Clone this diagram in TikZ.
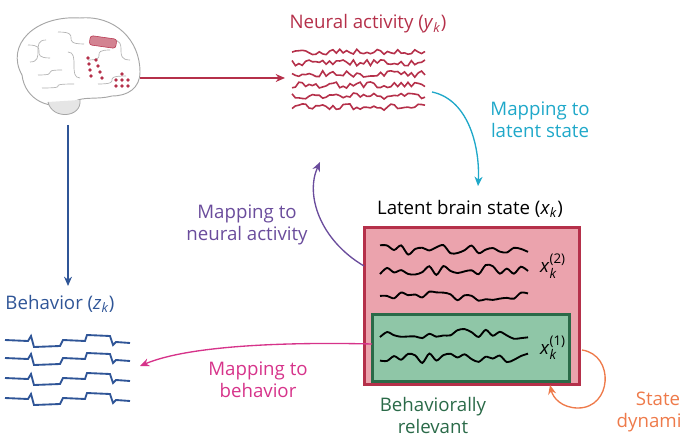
\documentclass[tikz,border=0pt]{standalone}
\usepackage{fontspec}
\setmainfont{Open Sans}
\usetikzlibrary{arrows.meta}
\definecolor{nred}{HTML}{B5304A}
\definecolor{ncyan}{HTML}{1FA8C9}
\definecolor{npurp}{HTML}{6A4C9C}
\definecolor{nblue}{HTML}{2F5597}
\definecolor{nmag}{HTML}{D6338A}
\definecolor{ngreen}{HTML}{2A6A48}
\definecolor{norange}{HTML}{EE7A4A}
\definecolor{pinkf}{HTML}{EBA3AD}
\definecolor{greenf}{HTML}{8FC6A7}
\newcommand{\vk}[1]{\textit{#1}\textsubscript{\textit{k}}}
\newcommand{\vks}[2]{\textit{#1}$_{\mbox{\fontsize{10}{10}\selectfont\itshape k}}^{\mbox{\fontsize{10}{10}\selectfont(#2)}}$}
\begin{document}
\begin{tikzpicture}[x=0.75pt,y=-0.75pt,
  lab/.style={font=\fontsize{14}{16.5}\selectfont,align=center},
  arr/.style={-{Stealth[length=7pt,width=6pt]},line width=1pt}]
\useasboundingbox (0,0) rectangle (680,448);
\pgfmathsetseed{11}
% brain
\draw[gray!70,line width=0.7pt,fill=white] (22,75) .. controls (5,45) and (35,15) .. (80,18) .. controls (115,15) and (140,40) .. (140,72) .. controls (140,88) and (128,96) .. (112,96) .. controls (98,100) and (82,96) .. (74,102) .. controls (50,112) and (25,100) .. (22,75) -- cycle;
\draw[gray!70,line width=0.6pt,fill=gray!20] (48,102) .. controls (52,120) and (82,118) .. (80,100);
\foreach \a/\b/\c/\d in {28/45/50/58, 38/75/62/70, 58/32/84/44, 88/60/110/50, 42/88/74/84, 98/84/126/76, 68/52/80/78, 30/62/46/40, 112/40/130/60}
  \draw[gray!60,line width=0.5pt] (\a,\b) .. controls (\c,\b) and (\a,\d) .. (\c,\d);
\node[draw=nred,fill=nred!60,rounded corners=2pt,minimum width=20pt,minimum height=7pt,inner sep=0pt,rotate=-8] (arrayR) at (103,42) {};
\foreach \p in {(88,58),(89,64),(90,70),(91,76),(96,60),(98,66),(100,72),(102,78),(116,80),(122,80),(128,80),(116,86),(122,86),(128,86),(122,74)}
  \fill[nred] \p circle (1.8);
\coordinate (brainR) at (140,78);
\coordinate (brainB) at (68,125);
% neural activity
\node[lab,text=nred] (nlab) at (368,24) {Neural activity (\vk{y})};
\foreach \y in {52,63,74,85,96,107}
  \draw[nred,line width=1.2pt] plot[domain=292:425,samples=40] (\x,{\y+3.2*rand});
\coordinate (nin) at (285,78);
\draw[arr,nred] (brainR) -- (nin);
% latent
\node[lab,text=ncyan] (clab) at (540,120) {Mapping to\\latent state};
\coordinate (nout) at (432,92);
\coordinate (lin) at (478,186);
\draw[arr,ncyan] (nout) .. controls (470,100) and (480,150) .. (lin);
\node[lab] (llab) at (470,209) {Latent brain state (\vk{x})};
\node[draw=nred,line width=2.2pt,fill=pinkf,minimum width=161pt,minimum height=118pt,inner sep=0pt] (rbox) at (472,306) {};
\node[draw=ngreen,line width=2.2pt,fill=greenf,minimum width=148pt,minimum height=50pt,inner sep=0pt] (gbox) at (471,348) {};
\foreach \y in {250,270,296,334,358}
  \draw[line width=1.4pt] plot[smooth,domain=380:528,samples=22] (\x,{\y+5*rand});
\node[lab] (x2) at (553,266) {\vks{x}{2}};
\node[lab] (x1) at (553,348) {\vks{x}{1}};
% purple
\node[lab,text=npurp] (plab) at (247,225) {Mapping to\\neural activity};
\coordinate (pout) at (364,266);
\coordinate (pin) at (320,162);
\draw[arr,npurp] (pout) .. controls (320,240) and (305,195) .. (pin);
% behavior
\node[lab,text=nblue] (blab) at (60,304) {Behavior (\vk{z})};
\coordinate (bin) at (68,286);
\draw[arr,nblue] (brainB) -- (bin);
\foreach \y in {340,358,378,398}{
  \draw[nblue,line width=1.4pt] (5,\y) -- (28,\y+1) -- (31,\y-4) -- (34,\y+7) -- (60,\y+6) -- (63,\y) -- (85,\y+1) -- (87,\y-5) -- (110,\y-4) -- (113,\y+5) -- (116,\y+2) -- (130,\y+3);}
% magenta
\node[lab,text=nmag] (mlab) at (258,380) {Mapping to\\behavior};
\coordinate (mout) at (372,344);
\coordinate (min) at (140,366);
\draw[arr,nmag] (mout) .. controls (290,342) and (190,345) .. (min);
% green label
\node[lab,text=ngreen] (glab) at (433,415) {Behaviorally\\relevant};
% state dynamics
\coordinate (sout) at (582,350);
\coordinate (sin) at (550,385);
\draw[arr,norange] (sout) .. controls (615,355) and (612,408) .. (578,408) .. controls (562,408) and (553,398) .. (sin);
\node[lab,text=norange,anchor=west] (slab) at (612,412) {State\\dynamics};
\end{tikzpicture}
\end{document}
